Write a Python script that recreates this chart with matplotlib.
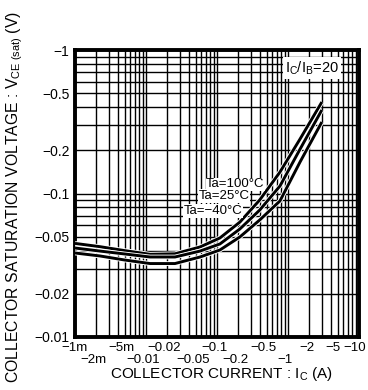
import matplotlib.pyplot as plt
import matplotlib.patheffects as pe
from matplotlib.ticker import NullFormatter, LogLocator

plt.rcParams["font.family"] = ["Liberation Sans", "DejaVu Sans"]
plt.rcParams["mathtext.fontset"] = "custom"
plt.rcParams["mathtext.rm"] = "Liberation Sans"
plt.rcParams["mathtext.it"] = "Liberation Sans:italic"

# collector current |Ic| (A) and saturation voltage |Vce(sat)| (V)
current = [0.001, 0.00225, 0.005, 0.0114, 0.0256, 0.0577, 0.11, 0.21, 0.40, 0.77, 1.48, 3.0]
vce_100 = [0.0449, 0.0426, 0.0400, 0.0377, 0.0380, 0.0424, 0.049, 0.0632, 0.0902, 0.141, 0.24, 0.434]
vce_25 = [0.0417, 0.0397, 0.0379, 0.0361, 0.0361, 0.0397, 0.0445, 0.0566, 0.0767, 0.1127, 0.204, 0.382]
vce_m40 = [0.0385, 0.0367, 0.0344, 0.0325, 0.0325, 0.0361, 0.0404, 0.0498, 0.0654, 0.0887, 0.166, 0.315]

curve_labels = ["Ta=100°C", "Ta=25°C", "Ta=\u221240°C"]
curve_label_xy = [(0.47, 0.116), (0.29, 0.096), (0.23, 0.0755)]

x_ticks = [1e-3, 2e-3, 5e-3, 0.01, 0.02, 0.05, 0.1, 0.2, 0.5, 1, 2, 5, 10]
x_tick_labels = ["\u22121m", "\u22122m", "\u22125m", "\u22120.01", "\u22120.02", "\u22120.05",
                 "\u22120.1", "\u22120.2", "\u22120.5", "\u22121", "\u22122", "\u22125", "\u221210"]
x_tick_row = [0, 1, 0, 1, 0, 1, 0, 1, 0, 1, 0, 0, 0]
y_ticks = [0.01, 0.02, 0.05, 0.1, 0.2, 0.5, 1]
y_tick_labels = ["\u22120.01", "\u22120.02", "\u22120.05", "\u22120.1", "\u22120.2", "\u22120.5", "\u22121"]

fig = plt.figure(figsize=(3.68, 3.90), dpi=100)
ax = fig.add_axes([75 / 368, 53 / 390, 284 / 368, 287 / 390])
ax.set_xscale("log")
ax.set_yscale("log")
ax.set_xlim(1e-3, 10)
ax.set_ylim(0.01, 1)

ax.xaxis.set_minor_locator(LogLocator(base=10, subs=range(2, 10), numticks=20))
ax.yaxis.set_minor_locator(LogLocator(base=10, subs=range(2, 10), numticks=20))
ax.xaxis.set_minor_formatter(NullFormatter())
ax.yaxis.set_minor_formatter(NullFormatter())
ax.set_xticks(x_ticks)
ax.set_xticklabels([])
ax.set_yticks(y_ticks)
ax.set_yticklabels(y_tick_labels, fontsize=10)
ax.tick_params(which="both", length=0)
ax.tick_params(axis="y", pad=4)
ax.grid(which="both", color="black", lw=1.0)
for s in ax.spines.values():
    s.set_linewidth(2.8)

halo = [pe.Stroke(linewidth=3.4, foreground="white"), pe.Normal()]
for v in (vce_100, vce_25, vce_m40):
    ax.plot(current, v, color="black", lw=2.1, path_effects=halo,
            solid_capstyle="butt", zorder=3)

for txt, (x, y) in zip(curve_labels, curve_label_xy):
    ax.text(x, y, txt, fontsize=9.5, ha="right", va="center", zorder=4,
            bbox=dict(facecolor="white", edgecolor="none", pad=0.5))

ax.text(0.93, 0.937, r"I$_{\rm C}$/I$_{\rm B}$=20", transform=ax.transAxes,
        fontsize=10.5, ha="right", va="center", zorder=4,
        bbox=dict(facecolor="white", edgecolor="none", pad=1.5))

for x, lab, row in zip(x_ticks, x_tick_labels, x_tick_row):
    dx = -2
    if x >= 5:
        dx = -3.2
    if x == 1e-3:
        dx = 0
    ax.annotate(lab, xy=(x, 0), xycoords=ax.get_xaxis_transform(),
                xytext=(dx, -8.2 - 8.5 * row), textcoords="offset points",
                ha="center", va="center", fontsize=9.5, annotation_clip=False)

fig.text(221 / 368, 1 - 374 / 390, r"COLLECTOR CURRENT : I$_{\rm C}$ (A)",
         ha="center", va="center", fontsize=11)
fig.text(15 / 368, 1 - 197 / 390,
         r"COLLECTOR SATURATION VOLTAGE : V$_{\rm CE\ (sat)}$ (V)",
         ha="center", va="center", rotation=90, fontsize=11.3)

fig.savefig("out.png", dpi=100)
